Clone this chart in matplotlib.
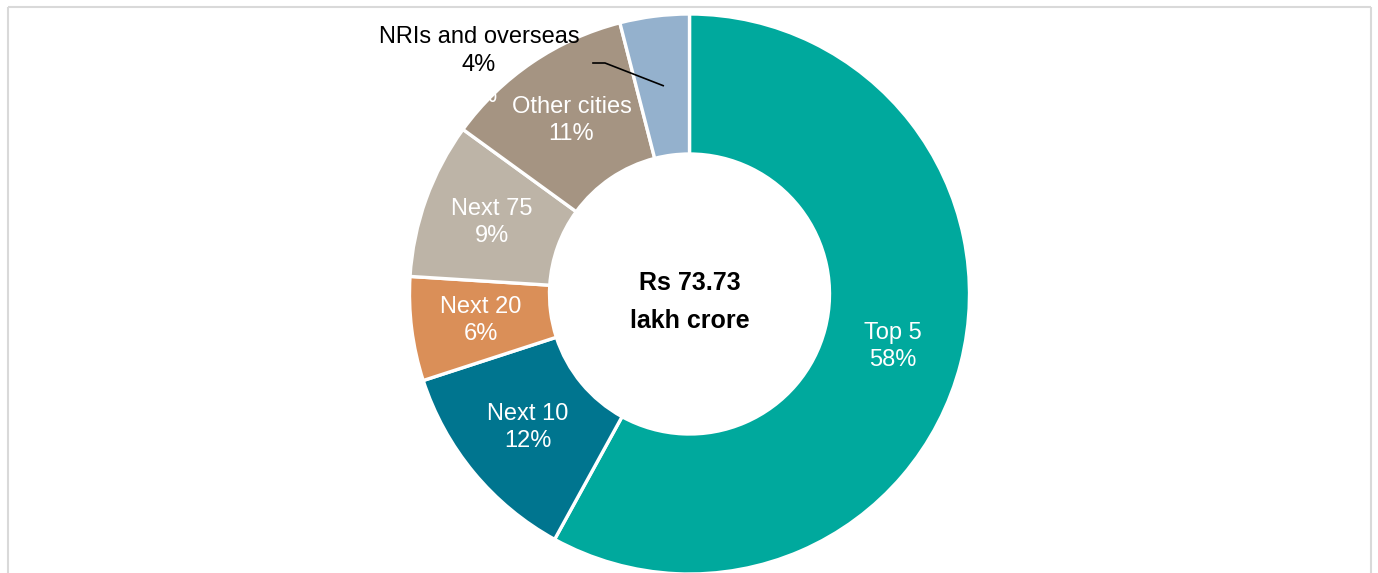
import numpy as np
import matplotlib.pyplot as plt

# --------------------------------------------------------------------------------
# DATA
# --------------------------------------------------------------------------------
segments = ["Top 5", "Next 10", "Next 20", "Next 75", "Other cities", "NRIs and overseas"]
shares = [58, 12, 6, 9, 11, 4]
colors = ["#00a99d", "#00758f", "#da8f58", "#bdb4a7", "#a59482", "#94b1cd"]
total_label = "Rs 73.73\nlakh crore"

# --------------------------------------------------------------------------------
# SETUP (axes in pixel units, 1 unit = 1 px)
# --------------------------------------------------------------------------------
plt.rcParams['font.family'] = ['Liberation Sans', 'DejaVu Sans']
W, H = 1378, 573
fig = plt.figure(figsize=(W / 100, H / 100), dpi=100)
ax = fig.add_axes([0, 0, 1, 1])

cx, cy = 689.5, H - 294
R = 280

wedges, _ = ax.pie(shares, colors=colors, startangle=90, counterclock=False,
                   radius=R, center=(cx, cy), frame=True,
                   wedgeprops=dict(width=R * 0.5, edgecolor='white', linewidth=2.4))
ax.set_xlim(0, W)
ax.set_ylim(0, H)
ax.set_aspect('equal')
ax.axis('off')

# frame around the chart area
frame_kw = dict(color='#d9d9d9', linewidth=1.5, solid_capstyle='butt')
ax.plot([8, 8], [0, H - 7], **frame_kw)
ax.plot([1371, 1371], [0, H - 7], **frame_kw)
ax.plot([8, 1371], [H - 7, H - 7], **frame_kw)

# --------------------------------------------------------------------------------
# LABELS
# --------------------------------------------------------------------------------
label_r = 0.75 * R
fs = 17
ls = 1.3

for name, val, w in zip(segments, shares, wedges):
    mid = np.deg2rad((w.theta1 + w.theta2) / 2)
    x = cx + label_r * np.cos(mid)
    y = cy + label_r * np.sin(mid)
    if name == "NRIs and overseas":
        # white default label left behind, mostly invisible on the background
        ax.text(481, H - 96, f"{val}%", color='white', fontsize=fs,
                ha='center', va='center', zorder=1)
        ax.plot([593, 605, x], [H - 63, H - 63, y], color='black', linewidth=1.2, zorder=4)
        ax.text(479, H - 51, f"{name}\n{val}%", color='black', fontsize=fs,
                ha='center', va='center', linespacing=ls, zorder=5)
    else:
        ax.text(x, y, f"{name}\n{val}%", color='white', fontsize=fs,
                ha='center', va='center', linespacing=ls, zorder=5)

ax.text(cx, cy - 8, total_label, color='black', fontsize=18, fontweight='bold',
        ha='center', va='center', linespacing=1.75)

fig.savefig("out.png", dpi=100)
